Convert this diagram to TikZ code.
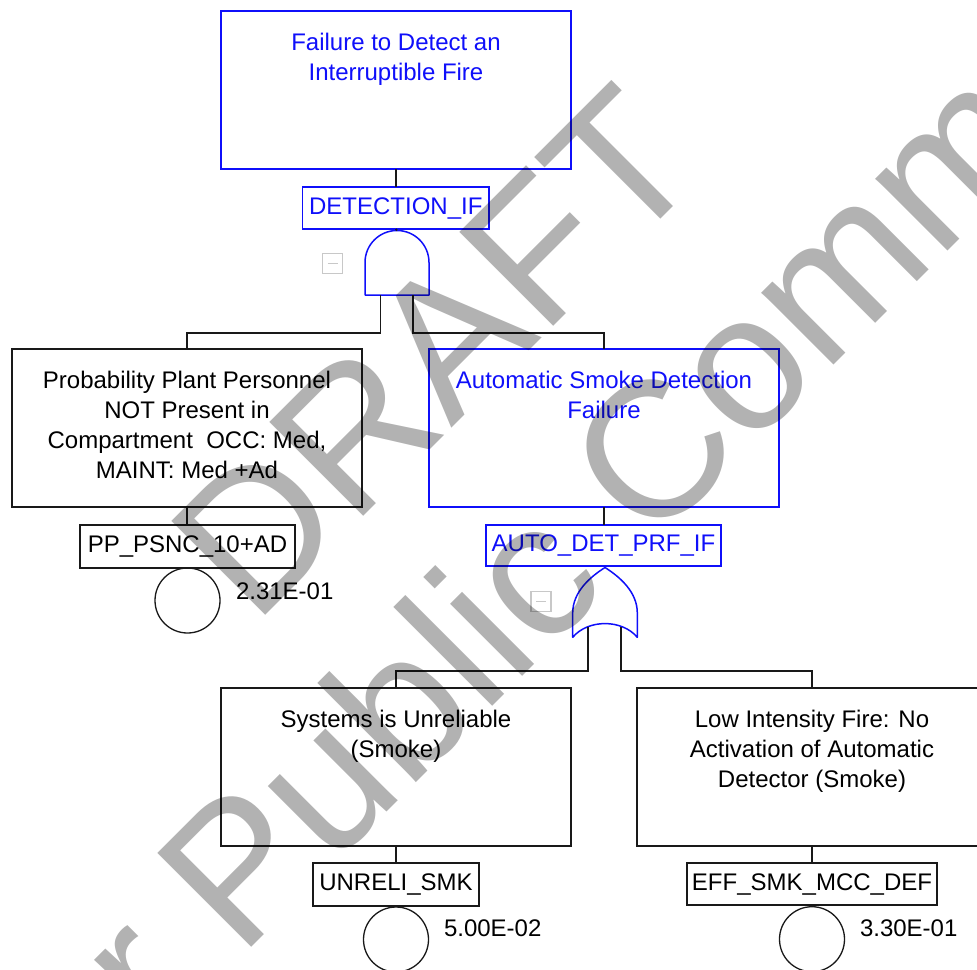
\documentclass[tikz,border=0pt]{standalone}
\usepackage{fontspec}
\setmainfont{Liberation Sans}
\definecolor{fblue}{RGB}{15,15,250}
\definecolor{fline}{RGB}{25,25,25}
\definecolor{minusgray}{RGB}{200,200,200}
\newcommand\fl{\rule{0pt}{18pt}}
\begin{document}
\begin{tikzpicture}[x=1pt,y=-1pt,
  every node/.style={inner sep=0pt, outer sep=0pt, font=\fontsize{24}{30}\selectfont},
  evbox/.style={draw=fline, line width=1.8pt, minimum width=350pt, minimum height=158pt},
  gatebox/.style={evbox, draw=fblue},
  lbl/.style={draw=fline, line width=1.8pt, minimum height=42pt, text height=17pt, text depth=5pt},
  blbl/.style={lbl, draw=fblue, text=fblue},
  btxt/.style={anchor=north, align=center},
  conn/.style={draw=fline, line width=1.8pt},
  gate/.style={draw=fblue, line width=1.5pt, line join=round},
  basic/.style={circle, draw=fline, line width=1.3pt, minimum size=65pt},
  prob/.style={anchor=base west},
  minus/.style={draw=minusgray, line width=1.5pt, minimum size=20pt},
  minusline/.style={draw=minusgray, line width=1.5pt},
  wm/.style={anchor=base west, rotate=45, text=black, text opacity=0.3, font=\fontsize{193}{200}\selectfont}
]
\useasboundingbox (0,0) rectangle (977,969);
\clip (0,0) rectangle (977,969);

% top event
\node[gatebox] (b1) at (396,90) {};
\node[btxt, text=fblue] (t1) at (396,32) {\fl Failure to Detect an\\Interruptible Fire};
\node[blbl, minimum width=186.5pt] (l1) at (395.75,208) {DETECTION\_IF};
\draw[conn] (b1.south) -- (b1.south |- l1.north);

% AND gate
\coordinate (andtop) at (397,230.5);
\coordinate (andL) at (380.5,295);
\coordinate (andR) at (412.7,295);
\draw[gate] (365,295) -- (365,262.5) .. controls (365,244.8) and (379.3,230.5) .. (andtop)
  .. controls (414.7,230.5) and (429,244.8) .. (429,262.5) -- (429,295) -- cycle;
\draw[conn] (l1.south) -- (andtop);
\node[minus] (m1) at (332.5,263.3) {};
\draw[minusline] ([xshift=5pt]m1.west) -- ([xshift=-5pt]m1.east);

% second level
\node[evbox] (b2) at (187,428) {};
\node[btxt] (t2) at (187,370) {\fl Probability Plant Personnel\\NOT Present in\\Compartment~ OCC: Med,\\MAINT: Med +Ad};
\node[gatebox] (b3) at (604,428) {};
\node[btxt, text=fblue] (t3) at (604,370) {\fl Automatic Smoke Detection\\Failure};
\draw[conn] (andL) -- ++(0,38) -| (b2.north);
\draw[conn] (andR) -- ++(0,38) -| (b3.north);

% basic event PP
\node[lbl, minimum width=215pt, minimum height=43pt] (l2) at (187.5,546.5) {PP\_PSNC\_10+AD};
\draw[conn] (b2.south) -- (b2.south |- l2.north);
\node[basic] (c1) at (187.5,600.5) {};
\node[prob] (p1) at (236,599) {2.31E-01};

% OR gate
\node[blbl, minimum width=235pt, minimum height=41pt] (l3) at (603.5,545.5) {AUTO\_DET\_PRF\_IF};
\draw[conn] (b3.south) -- (b3.south |- l3.north);
\coordinate (ortop) at (605,567.5);
\coordinate (orL) at (588.3,627);
\coordinate (orR) at (620.7,627);
\draw[gate] (ortop) .. controls (590,577) and (572.7,592) .. (572.7,613) -- (572.7,637.3)
  .. controls (588,619) and (622,619) .. (637.3,637.3) -- (637.3,613)
  .. controls (637.3,592) and (620,577) .. (ortop) -- cycle;
\node[minus] (m2) at (541,601.5) {};
\draw[minusline] ([xshift=5pt]m2.west) -- ([xshift=-5pt]m2.east);

% third level
\node[evbox] (b4) at (396,767) {};
\node[btxt] (t4) at (396,709) {\fl Systems is Unreliable\\(Smoke)};
\node[evbox] (b5) at (812,767) {};
\node[btxt] (t5) at (812,709) {\fl Low Intensity Fire: No\\Activation of Automatic\\Detector (Smoke)};
\draw[conn] (orL) -- ++(0,44) -| (b4.north);
\draw[conn] (orR) -- ++(0,44) -| (b5.north);

\node[lbl, minimum width=166pt, minimum height=43pt] (l4) at (396,884.5) {UNRELI\_SMK};
\draw[conn] (b4.south) -- (l4.north);
\node[basic] (c4) at (396,939.5) {};
\node[prob] (p4) at (444,936.7) {5.00E-02};

\node[lbl, minimum width=250pt, minimum height=42pt] (l5) at (812,884) {EFF\_SMK\_MCC\_DEF};
\draw[conn] (b5.south) -- (l5.north);
\node[basic] (c5) at (812,939.2) {};
\node[prob] (p5) at (860,936.7) {3.30E-01};

% watermark
\node[wm] (w1) at (254,626) {DRAFT};
\node[wm] (w2) at (-2,1201) {For Public Comment};
\end{tikzpicture}
\end{document}
